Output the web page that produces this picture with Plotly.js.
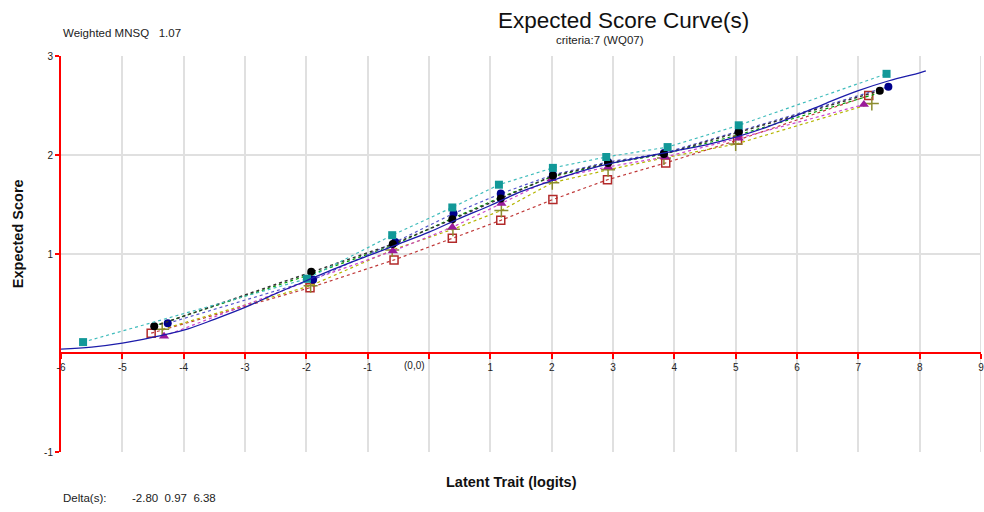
<!DOCTYPE html>
<html>
<head>
<meta charset="utf-8">
<script src="https://cdn.plot.ly/plotly-3.0.1.min.js"></script>
<style>html,body{margin:0;padding:0;background:#fff;}#chart{width:984px;height:512px;}</style>
</head>
<body>
<div id="chart"></div>
<script>
// Model expected score curve
var modelX = [-6,-5.5,-5,-4.5,-4,-3.5,-3,-2.5,-2,-1.5,-1,-0.5,0,0.5,1,1.5,2,2.5,3,3.5,4,4.5,5,5.5,6,6.5,7,7.5,8,8.1];
var modelY = [0.04,0.06,0.10,0.16,0.23,0.34,0.46,0.60,0.73,0.86,0.98,1.10,1.22,1.36,1.49,1.63,1.74,1.84,1.92,1.98,2.04,2.10,2.18,2.28,2.40,2.53,2.65,2.75,2.83,2.85];

// Observed class-interval means, one array pair per group
var tealX  = [-5.64,-1.99,-0.60,0.38,1.14,2.02,2.89,3.89,5.05,7.46];
var tealY  = [0.11,0.75,1.19,1.47,1.70,1.87,1.98,2.08,2.30,2.82];
var blackX = [-4.48,-1.92,-0.59,0.38,1.17,2.02,2.92,3.83,5.05,7.35];
var blackY = [0.27,0.82,1.10,1.35,1.56,1.79,1.92,2.01,2.23,2.65];
var navyX  = [-4.26,-1.89,-0.55,0.40,1.17,2.02,2.92,3.83,5.05,7.49];
var navyY  = [0.30,0.74,1.12,1.41,1.61,1.80,1.93,2.02,2.24,2.69];
var greenX = [-4.40,-1.90,-0.58,0.38,1.16,2.00,2.90,3.84,5.03,7.30];
var greenY = [0.29,0.80,1.09,1.36,1.57,1.78,1.91,2.01,2.20,2.62];
var magX   = [-4.32,-1.92,-0.59,0.38,1.18,2.00,2.92,3.85,5.05,7.09];
var magY   = [0.17,0.74,1.03,1.27,1.51,1.76,1.88,1.98,2.17,2.51];
var oliveX = [-4.35,-1.93,-0.60,0.39,1.18,2.01,2.92,3.83,5.00,7.22];
var oliveY = [0.24,0.68,1.04,1.25,1.44,1.72,1.85,1.97,2.11,2.52];
var redX   = [-4.53,-1.94,-0.57,0.38,1.17,2.02,2.91,3.86,5.03,7.17];
var redY   = [0.20,0.66,0.94,1.16,1.34,1.55,1.75,1.92,2.15,2.60];

var xTicks = [-6,-5,-4,-3,-2,-1,0,1,2,3,4,5,6,7,8,9];
var xTickText = ['-6','-5','-4','-3','-2','-1','','1','2','3','4','5','6','7','8','9'];
var yTicks = [-1,1,2,3];
var yTickText = ['-1','1','2','3'];

function obs(x, y, lineColor, mColor, sym, size, lineW) {
  return {x:x, y:y, type:'scatter', mode:'lines+markers', hoverinfo:'skip',
    line:{color:lineColor, width:lineW||1.2, dash:'3px,3px'},
    marker:{color:mColor, symbol:sym, size:size, line:{color:mColor, width:sym.indexOf('open')>=0||sym==='cross-thin'?1.5:0}}};
}

var traces = [
  obs(redX, redY, '#c03a3a', '#b22a2a', 'square-open', 8),
  obs(oliveX, oliveY, '#b5b500', '#8c8c30', 'cross-thin', 10),
  obs(magX, magY, '#cc44cc', '#9a1a9a', 'triangle-up', 9),
  obs(greenX, greenY, '#00a000', '#00a000', 'circle', 1),
  obs(navyX, navyY, '#5555cc', '#00008b', 'circle', 8),
  obs(blackX, blackY, '#333333', '#000000', 'circle', 8, 1.5),
  obs(tealX, tealY, '#40bcbc', '#129898', 'square', 8),
  {x:modelX, y:modelY, type:'scatter', mode:'lines', hoverinfo:'skip', line:{color:'#1c1caa', width:1.3, shape:'spline'}}
];

var fontFam = 'Liberation Sans, Arial, sans-serif';
var xMax = xTicks[xTicks.length-1];
var layout = {
  width:984, height:512,
  margin:{l:61, r:3, t:56, b:60},
  paper_bgcolor:'#fff', plot_bgcolor:'#fff',
  showlegend:false,
  font:{family:fontFam, color:'#222', size:10},
  xaxis:{range:[xTicks[0], xMax], tickvals:xTicks, ticktext:xTickText, showgrid:true, gridcolor:'#e0e0e0', gridwidth:2,
    zeroline:false, showline:true, linecolor:'#ff0000', linewidth:2, ticks:'outside', ticklen:5, tickwidth:2,
    tickcolor:'#ff0000', anchor:'free', position:0.25, ticklabeloverflow:'allow',
    tickfont:{size:10, color:'#222', family:fontFam}, fixedrange:true},
  yaxis:{range:[-1,3], tickvals:yTicks, ticktext:yTickText, showgrid:true, gridcolor:'#e0e0e0', gridwidth:2,
    zeroline:false, showline:true, linecolor:'#ff0000', linewidth:2, ticks:'outside', ticklen:4, tickwidth:2,
    tickcolor:'#ff0000', tickfont:{size:10, color:'#222', family:fontFam}, fixedrange:true},
  shapes:[
    {type:'line', xref:'x', yref:'paper', x0:xMax, x1:xMax, y0:0, y1:1, layer:'below', line:{color:'#e0e0e0', width:2}}
  ],
  annotations:[
    {text:'Expected Score Curve(s)', xref:'paper', yref:'paper', x:0.611, y:1, yshift:36, xanchor:'center', yanchor:'middle', showarrow:false, font:{size:22.5, color:'#111', family:fontFam}},
    {text:'criteria:7 (WQ07)', xref:'paper', yref:'paper', x:0.586, y:1, yshift:16, xanchor:'center', yanchor:'middle', showarrow:false, font:{size:11.5, color:'#222', family:fontFam}},
    {text:'Weighted MNSQ   1.07', xref:'paper', yref:'paper', x:0, y:1, xshift:0, yshift:23, xanchor:'left', yanchor:'middle', showarrow:false, font:{size:11.5, color:'#222', family:fontFam}},
    {text:'Delta(s):        -2.80  0.97  6.38', xref:'paper', yref:'paper', x:0, y:0, xshift:0, yshift:-46, xanchor:'left', yanchor:'middle', showarrow:false, font:{size:11.5, color:'#222', family:fontFam}},
    {text:'<b>Latent Trait (logits)</b>', xref:'paper', yref:'paper', x:0.49, y:0, yshift:-30, xanchor:'center', yanchor:'middle', showarrow:false, font:{size:14.5, color:'#111', family:fontFam}},
    {text:'<b>Expected Score</b>', xref:'paper', yref:'paper', x:0, y:0.55, xshift:-43, textangle:-90, xanchor:'center', yanchor:'middle', showarrow:false, font:{size:14.5, color:'#111', family:fontFam}},
    {text:'(0,0)', xref:'x', yref:'y', x:-0.23, y:0, yshift:-12, xanchor:'center', yanchor:'middle', showarrow:false, font:{size:10, color:'#222', family:fontFam}}
  ]
};

Plotly.newPlot('chart', traces, layout, {staticPlot:true, displayModeBar:false});
</script>
</body>
</html>
